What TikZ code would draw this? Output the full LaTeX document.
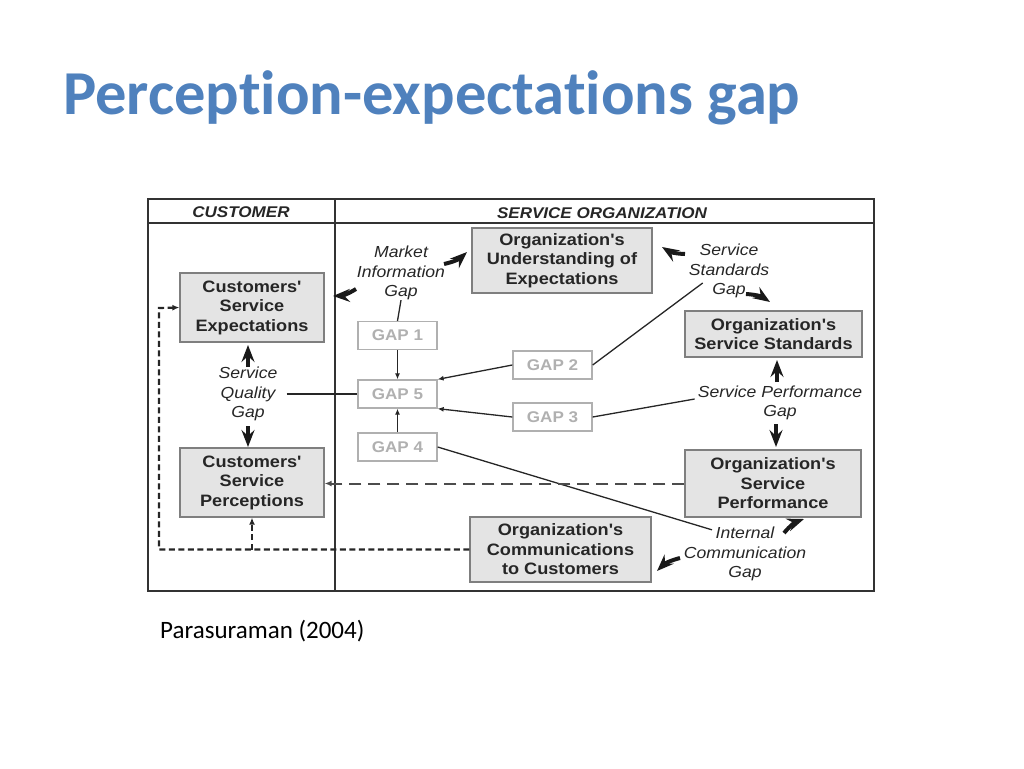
\documentclass[tikz,border=0pt]{standalone}
\usepackage{fontspec}
\setmainfont{Carlito}[Ligatures={NoCommon}]
\newfontfamily\diagfont[FakeStretch=1.1]{Liberation Sans}
\usetikzlibrary{arrows.meta}
\definecolor{titleblue}{HTML}{4F81BD}
\definecolor{boxfill}{HTML}{E4E4E4}
\definecolor{boxline}{HTML}{7F7F7F}
\definecolor{gapgray}{HTML}{B0B0B0}
\begin{document}
\begin{tikzpicture}[x=1pt, y=-1pt,
  stage/.style={draw=boxline, fill=boxfill, line width=1.3pt, align=center, inner sep=0pt, text=black!85, font=\diagfont\bfseries\fontsize{16.5}{19.5}\selectfont},
  gapbox/.style={draw=gapgray, line width=1.3pt, minimum width=79pt, minimum height=28pt, inner sep=0pt, text=gapgray, font=\diagfont\bfseries\fontsize{15.5}{18}\selectfont},
  gaplabel/.style={align=center, inner sep=0pt, text=black!85, font=\diagfont\itshape\fontsize{16}{19.5}\selectfont},
  hdr/.style={inner sep=0pt, text=black!85, font=\diagfont\bfseries\itshape\fontsize{15.5}{18}\selectfont},
  link/.style={line width=1.3pt, black!85},
  tolink/.style={link, -{Latex[length=6pt,width=5pt]}},
  fatarrow/.style={line width=4pt, black!90, -{Stealth[length=17pt,width=13pt,inset=6pt]}},
  dashlink/.style={line width=2pt, black!70, dash pattern=on 12pt off 7pt, -{Latex[length=7pt,width=6pt]}},
  commlink/.style={line width=2.2pt, black!85, dash pattern=on 6pt off 3.5pt}]
  \useasboundingbox (0,0) rectangle (1024,768);

  \node[anchor=base west, inner sep=0pt, text=titleblue, font=\bfseries\fontsize{62.5}{74}\selectfont] (title) at (63,114) {Perception-expectations gap};
  \node[anchor=base west, inner sep=0pt, font=\fontsize{25}{30}\selectfont] (source) at (160,638) {Parasuraman (2004)};

  % frame
  \draw[line width=2pt, black!80] (148,199) rectangle (874,591);
  \draw[line width=2pt, black!80] (148,223) -- (874,223);
  \draw[line width=2pt, black!80] (335,199) -- (335,591);
  \node[hdr] (hcust) at (241,212) {CUSTOMER};
  \node[hdr] (hsorg) at (602,213) {SERVICE ORGANIZATION};

  % stages
  \node[stage, minimum width=144pt, minimum height=69pt] (custexp) at (252,307.5) {Customers'\\Service\\Expectations};
  \node[stage, minimum width=144pt, minimum height=69pt] (custperc) at (252,482.5) {Customers'\\Service\\Perceptions};
  \node[stage, minimum width=180pt, minimum height=65pt] (orgund) at (562,260.5) {Organization's\\Understanding of\\Expectations};
  \node[stage, minimum width=177pt, minimum height=46pt] (orgstd) at (773.5,334) {Organization's\\Service Standards};
  \node[stage, minimum width=176pt, minimum height=67pt] (orgperf) at (773,483.5) {Organization's\\Service\\Performance};
  \node[stage, minimum width=181pt, minimum height=65pt] (orgcomm) at (560.5,549.5) {Organization's\\Communications\\to Customers};

  % gaps
  \foreach \i/\x/\y in {1/397.5/335.5, 5/397.5/394, 4/397.5/447, 2/552.5/365, 3/552.5/417}
    \node[gapbox] (gap\i) at (\x,\y) {GAP \i};

  \node[gaplabel] (mig) at (401,273) {Market\\Information\\Gap};
  \node[gaplabel] (ssg) at (729,271) {Service\\Standards\\Gap};
  \node[gaplabel] (sqg) at (248,394) {Service\\Quality\\Gap};
  \node[gaplabel] (spg) at (780,403) {Service Performance\\Gap};
  \node[gaplabel] (icg) at (745,554) {Internal\\Communication\\Gap};

  \draw[link] (mig.south) -- (gap1.north);
  \draw[tolink] (gap1) -- (gap5);
  \draw[tolink] (gap4) -- (gap5);
  \draw[tolink] (gap2.west) -- (gap5.north east);
  \draw[tolink] (gap3.west) -- (gap5.south east);
  \draw[link, shorten <=9pt] (sqg.east) -- (gap5.west);
  \draw[link] (gap2.east) -- ([shift={(14,12)}]ssg.west);
  \draw[link] (gap3.east) -- ([shift={(-3,-4)}]spg.west);
  \draw[link] (gap4.east) -- ([shift={(-33,3)}]icg.north);

  % fat arrows
  \foreach \n/\tx/\ty/\hx/\hy/\b in {1/356/289/333/296/15, 2/444/264/467/252/-15,
      3/685/254/662/247/15, 4/746/294/770/302/15, 5/248/367/248/345/0, 6/248/426/248/447/0,
      7/777/382/777/360/0, 8/776/424/776/447/0, 9/784/533/804/519/15, 10/680/558/657/571/-15} {
    \coordinate (ft\n) at (\tx,\ty);
    \coordinate (fh\n) at (\hx,\hy);
    \draw[fatarrow] (ft\n) to[bend left=\b] (fh\n);
  }

  % dashed flows
  \coordinate (cleft) at (159,308);
  \draw[dashlink] (orgperf.west) -- (orgperf.west -| custperc.east);
  \draw[commlink, -{Latex[length=7pt,width=6pt]}] (orgcomm.west) -| (cleft) -- (custexp.west);
  \draw[commlink, -{Latex[length=7pt,width=6pt]}] (orgcomm.west -| custperc.south) -- (custperc.south);
\end{tikzpicture}
\end{document}
